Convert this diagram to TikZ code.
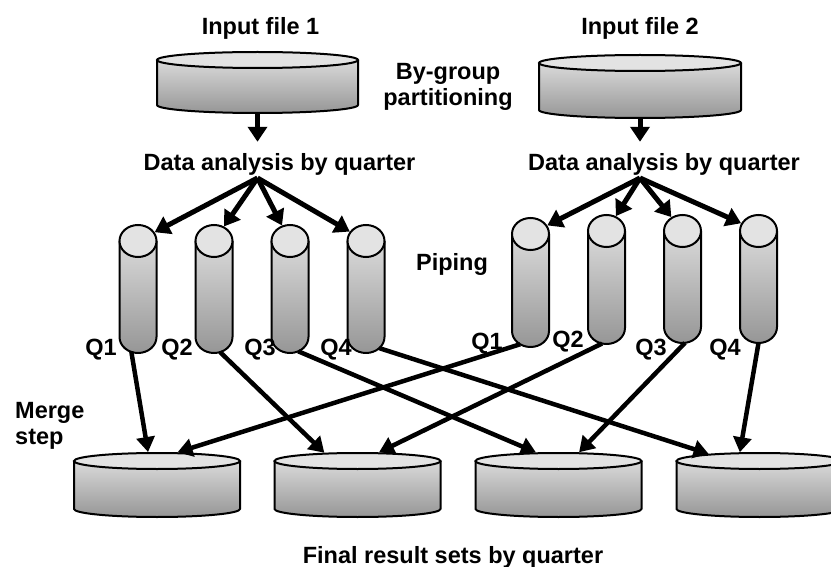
\documentclass[tikz,border=0pt]{standalone}
\usepackage{fontspec}
\setmainfont{Liberation Sans}
\usetikzlibrary{shapes.geometric,arrows.meta,calc}

\definecolor{capgray}{HTML}{E3E3E3}
\definecolor{bodytop}{HTML}{DADADA}
\definecolor{bodybot}{HTML}{969696}

\tikzset{
  lbl/.style={font=\bfseries\fontsize{23.5}{26}\selectfont, inner sep=0pt},
  flow/.style={line width=5pt, -{Triangle[length=15pt,width=19pt]}},
  link/.style={line width=4.5pt, -{Triangle[length=15pt,width=18pt]}},
  drumtop/.style={ellipse, draw, line width=2pt, fill=capgray, inner sep=0pt},
  drumbase/.style={ellipse, inner sep=0pt, outer sep=0pt},
}

% \drum{name}{centre x}{top y}{bottom y}{x radius}{y radius}
% the top ellipse is node <name>, the bottom ellipse is node <name>b
\newcommand\drum[6]{%
  \fill[top color=bodytop, bottom color=bodybot]
    (#2-#5,#3) -- (#2-#5,#4)
    arc[start angle=180, end angle=0, x radius=#5, y radius=#6]
    -- (#2+#5,#3) -- cycle;
  \draw[line width=2pt, line join=round]
    (#2-#5,#3) -- (#2-#5,#4)
    arc[start angle=180, end angle=0, x radius=#5, y radius=#6]
    -- (#2+#5,#3);
  \node[drumtop, minimum width=2*#5, minimum height=2*#6] (#1) at (#2,#3) {};
  \node[drumbase, minimum width=2*#5, minimum height=2*#6] (#1b) at (#2,#4) {};
}

\begin{document}
\begin{tikzpicture}[x=1pt, y=-1pt]
\useasboundingbox (0,0) rectangle (831,567);
\clip (0,0) rectangle (831,567);

% input files
\drum{in1}{257.5}{60}{105}{100.5}{8}
\drum{in2}{640}{63}{110}{101}{8}

% pipes, first input
\drum{lq1}{138}{241}{337}{18.5}{16}
\drum{lq2}{214}{241}{337}{18.5}{16}
\drum{lq3}{290}{241}{337}{18.5}{16}
\drum{lq4}{366}{241}{337}{18.5}{16}

% pipes, second input
\drum{rq1}{530.5}{234}{331}{18.5}{16}
\drum{rq2}{606.5}{231}{328}{18.5}{16}
\drum{rq3}{682.5}{231}{327}{18.5}{16}
\drum{rq4}{758.5}{231}{327}{18.5}{16}

% result sets
\drum{r1}{157}{461}{509}{83}{8}
\drum{r2}{357.5}{461}{509}{83}{8}
\drum{r3}{558.5}{461}{509}{83}{8}
\drum{r4}{759.5}{461}{509}{83}{8}

% labels
\node[lbl, anchor=base] (t1) at (260.5,35) {Input file 1};
\node[lbl, anchor=base] (t2) at (640,35) {Input file 2};
\node[lbl, align=center, anchor=north] (bg) at (448,63) {By-group\\partitioning};
\node[lbl, anchor=base] (da1) at (279.5,171) {Data analysis by quarter};
\node[lbl, anchor=base] (da2) at (664,171) {Data analysis by quarter};
\node[lbl, anchor=base] (pp) at (452,270) {Piping};
\node[lbl, align=left, anchor=north west] (ms) at (15,402) {Merge\\step};
\node[lbl, anchor=base] (fin) at (453,563) {Final result sets by quarter};

\node[lbl, anchor=base] (lq1l) at (101,355) {Q1};
\node[lbl, anchor=base] (lq2l) at (177,355) {Q2};
\node[lbl, anchor=base] (lq3l) at (260,355) {Q3};
\node[lbl, anchor=base] (lq4l) at (336,355) {Q4};
\node[lbl, anchor=base] (rq1l) at (487,349) {Q1};
\node[lbl, anchor=base] (rq2l) at (568,347) {Q2};
\node[lbl, anchor=base] (rq3l) at (651,355) {Q3};
\node[lbl, anchor=base] (rq4l) at (725,355) {Q4};

% partitioning
\draw[flow, shorten >=12pt] (in1b.south) -- (in1b.south |- da1.north);
\draw[flow, shorten >=12pt] (in2b.south) -- (in2b.south |- da2.north);

% piping into the quarters
\coordinate (fork1) at (257.5,178);
\coordinate (fork2) at (640,178);
\foreach \q in {lq1,lq2,lq3,lq4} \draw[flow] (fork1) -- (\q);
\foreach \q in {rq1,rq2,rq3,rq4} \draw[flow] (fork2) -- (\q);

% merge step
\draw[link] (lq1b.246) -- (r1.135);
\draw[link] (lq2b.292) -- (r2.166);
\draw[link] (lq3b.300) -- (r3.159);
\draw[link] (lq4b.320) -- (r4.172);
\draw[link] (rq1b.232) -- (r1.23);
\draw[link] (rq2b.254) -- (r2.22);
\draw[link] (rq3b.279) -- (r3.23);
\draw[link] (rq4b.270) -- (r4.156);
\end{tikzpicture}
\end{document}
